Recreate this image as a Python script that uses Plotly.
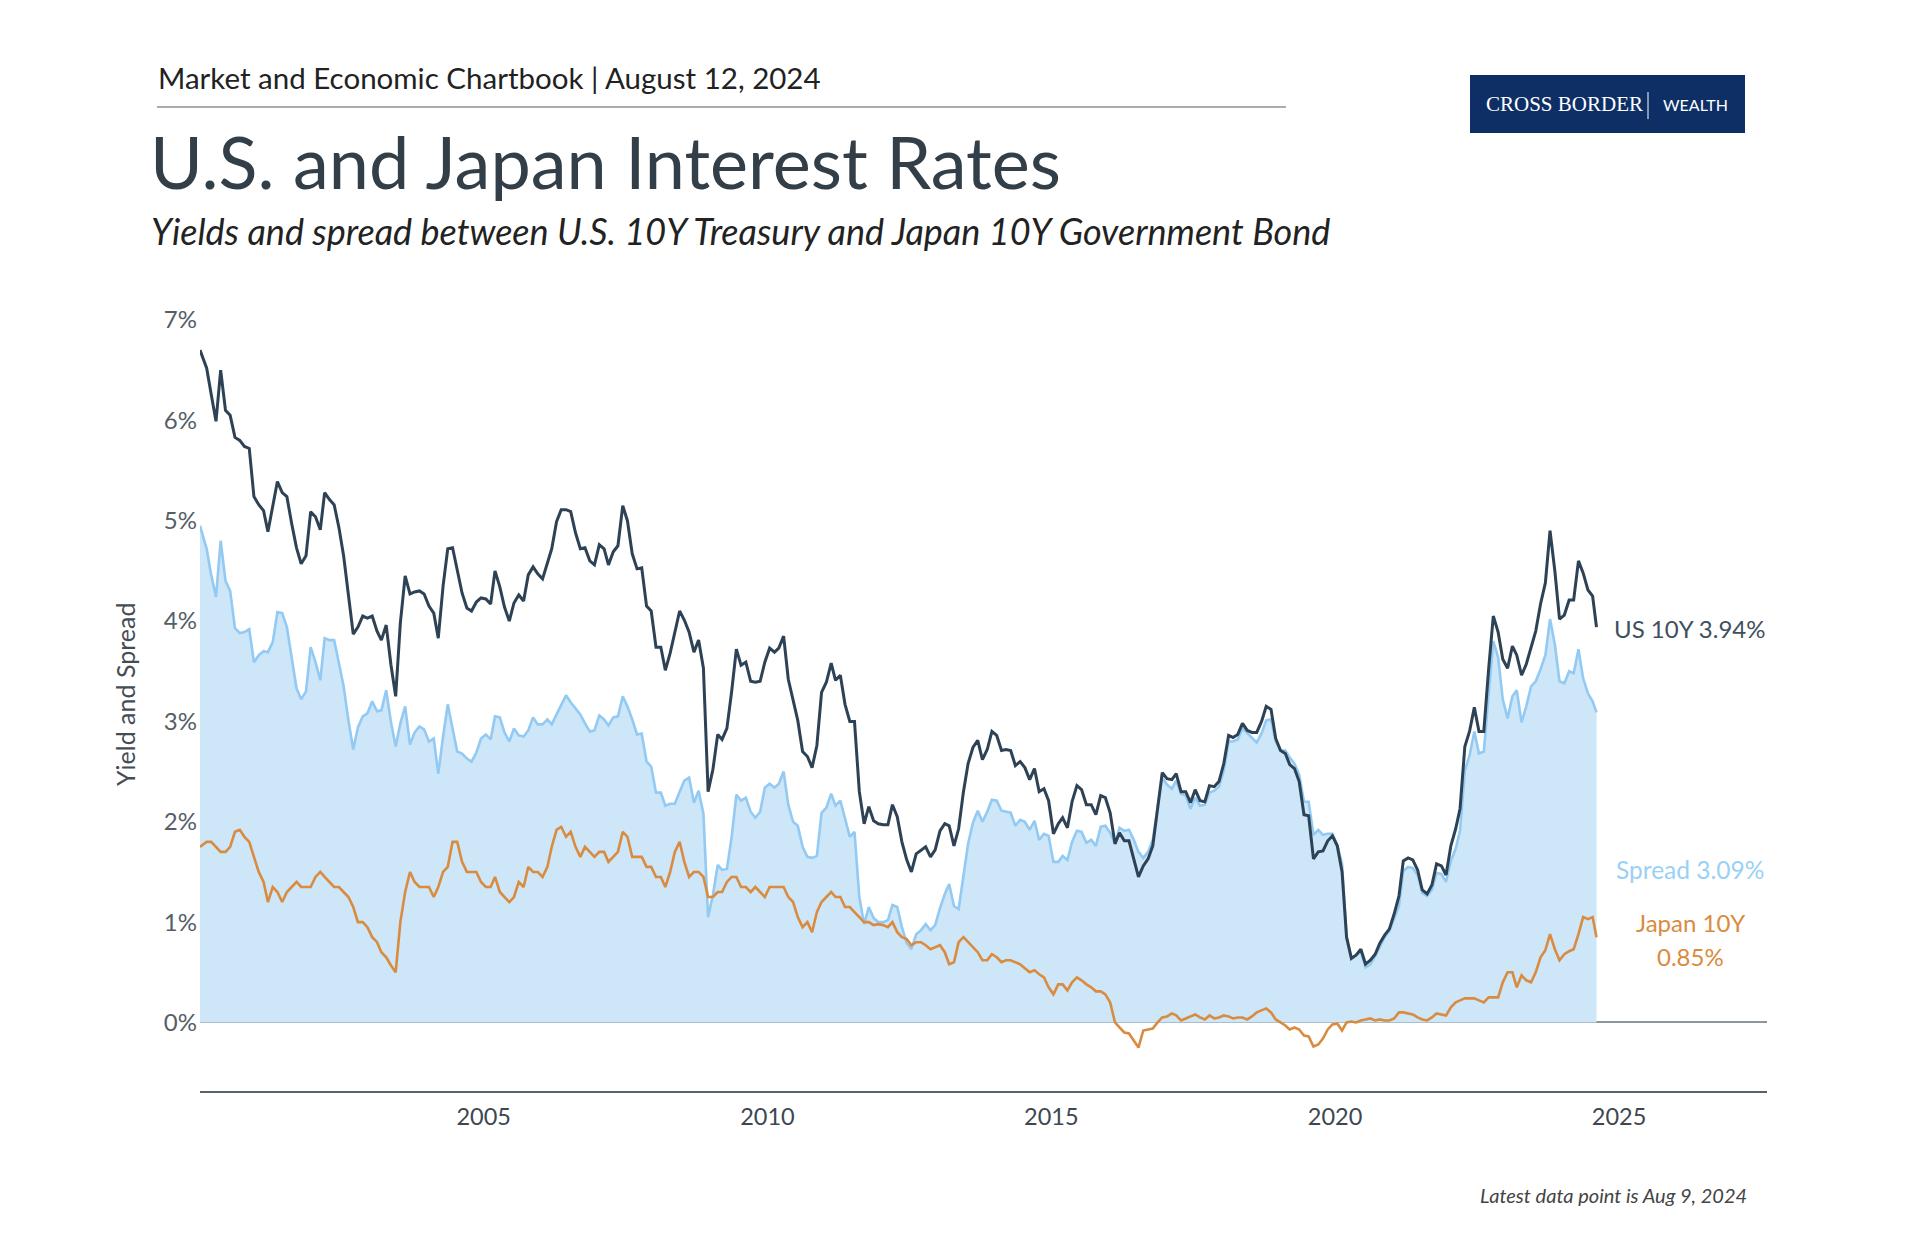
import pandas as pd
import plotly.graph_objects as go

# Monthly readings, Jan 2000 .. Aug 2024 (percent)
us_10y = [
    6.70, 6.52, 6.26, 5.99, 6.50, 6.10, 6.05, 5.83, 5.80, 5.74, 5.72, 5.24,
    5.16, 5.10, 4.89, 5.14, 5.39, 5.28, 5.24, 4.97, 4.73, 4.57, 4.65, 5.09,
    5.04, 4.91, 5.28, 5.21, 5.16, 4.93, 4.65, 4.26, 3.87, 3.94, 4.05, 4.03,
    4.05, 3.90, 3.81, 3.96, 3.57, 3.25, 3.98, 4.45, 4.27, 4.29, 4.30, 4.27,
    4.15, 4.08, 3.83, 4.35, 4.72, 4.73, 4.50, 4.28, 4.13, 4.10, 4.19, 4.23,
    4.22, 4.17, 4.50, 4.34, 4.14, 4.00, 4.18, 4.26, 4.20, 4.46, 4.54, 4.47,
    4.42, 4.57, 4.72, 4.99, 5.11, 5.11, 5.09, 4.88, 4.72, 4.73, 4.60, 4.56,
    4.76, 4.72, 4.56, 4.69, 4.75, 5.15, 5.00, 4.67, 4.52, 4.53, 4.15, 4.10,
    3.74, 3.74, 3.51, 3.68, 3.88, 4.10, 4.01, 3.89, 3.69, 3.81, 3.53, 2.30,
    2.52, 2.87, 2.82, 2.93, 3.29, 3.72, 3.56, 3.59, 3.40, 3.39, 3.40, 3.59,
    3.73, 3.69, 3.73, 3.85, 3.42, 3.20, 3.01, 2.70, 2.65, 2.54, 2.76, 3.29,
    3.39, 3.58, 3.41, 3.46, 3.17, 3.00, 3.00, 2.30, 1.98, 2.15, 2.01, 1.98,
    1.97, 1.97, 2.17, 2.05, 1.80, 1.62, 1.50, 1.68, 1.72, 1.75, 1.65, 1.72,
    1.91, 1.98, 1.96, 1.76, 1.93, 2.30, 2.58, 2.74, 2.81, 2.62, 2.72, 2.90,
    2.86, 2.71, 2.72, 2.71, 2.56, 2.60, 2.54, 2.42, 2.53, 2.30, 2.33, 2.21,
    1.88, 1.98, 2.04, 1.94, 2.20, 2.36, 2.32, 2.17, 2.17, 2.07, 2.26, 2.24,
    2.09, 1.78, 1.89, 1.81, 1.81, 1.64, 1.45, 1.56, 1.63, 1.76, 2.14, 2.49,
    2.43, 2.42, 2.48, 2.30, 2.30, 2.19, 2.32, 2.21, 2.20, 2.36, 2.35, 2.40,
    2.58, 2.86, 2.84, 2.87, 2.98, 2.91, 2.89, 2.89, 3.00, 3.15, 3.12, 2.83,
    2.71, 2.68, 2.57, 2.53, 2.40, 2.07, 2.06, 1.63, 1.70, 1.71, 1.81, 1.86,
    1.76, 1.50, 0.85, 0.64, 0.67, 0.73, 0.58, 0.62, 0.68, 0.79, 0.87, 0.93,
    1.08, 1.26, 1.61, 1.64, 1.62, 1.52, 1.32, 1.28, 1.37, 1.58, 1.56, 1.47,
    1.76, 1.93, 2.13, 2.75, 2.90, 3.14, 2.90, 2.90, 3.52, 4.05, 3.89, 3.62,
    3.53, 3.75, 3.66, 3.46, 3.57, 3.75, 3.90, 4.17, 4.38, 4.90, 4.50, 4.02,
    4.06, 4.21, 4.21, 4.60, 4.48, 4.31, 4.25, 3.94,
]

japan_10y = [
    1.75, 1.80, 1.80, 1.75, 1.70, 1.70, 1.75, 1.90, 1.92, 1.85, 1.80, 1.65,
    1.50, 1.40, 1.20, 1.35, 1.30, 1.20, 1.30, 1.35, 1.40, 1.35, 1.35, 1.35,
    1.45, 1.50, 1.45, 1.40, 1.35, 1.35, 1.30, 1.25, 1.15, 1.00, 1.00, 0.95,
    0.85, 0.80, 0.70, 0.65, 0.57, 0.50, 1.00, 1.30, 1.50, 1.40, 1.35, 1.35,
    1.35, 1.25, 1.35, 1.50, 1.55, 1.80, 1.80, 1.60, 1.50, 1.50, 1.50, 1.40,
    1.35, 1.35, 1.45, 1.30, 1.25, 1.20, 1.25, 1.40, 1.35, 1.55, 1.50, 1.50,
    1.45, 1.55, 1.75, 1.92, 1.95, 1.85, 1.90, 1.75, 1.65, 1.75, 1.70, 1.65,
    1.70, 1.70, 1.60, 1.65, 1.70, 1.90, 1.85, 1.65, 1.65, 1.65, 1.55, 1.55,
    1.45, 1.45, 1.35, 1.50, 1.70, 1.80, 1.60, 1.45, 1.50, 1.50, 1.45, 1.25,
    1.25, 1.30, 1.30, 1.40, 1.45, 1.45, 1.35, 1.35, 1.30, 1.35, 1.30, 1.25,
    1.35, 1.35, 1.35, 1.35, 1.25, 1.20, 1.05, 0.95, 1.00, 0.90, 1.10, 1.20,
    1.25, 1.30, 1.25, 1.25, 1.15, 1.15, 1.10, 1.05, 1.00, 1.00, 0.97, 0.98,
    0.97, 0.95, 1.00, 0.90, 0.85, 0.83, 0.77, 0.80, 0.80, 0.77, 0.73, 0.75,
    0.77, 0.70, 0.58, 0.60, 0.80, 0.85, 0.80, 0.75, 0.70, 0.62, 0.62, 0.68,
    0.65, 0.60, 0.62, 0.62, 0.60, 0.58, 0.54, 0.50, 0.52, 0.48, 0.45, 0.35,
    0.28, 0.38, 0.38, 0.32, 0.40, 0.45, 0.42, 0.38, 0.35, 0.31, 0.31, 0.28,
    0.20, 0.00, -0.05, -0.10, -0.11, -0.18, -0.25, -0.08, -0.07, -0.06, 0.00, 0.05,
    0.06, 0.09, 0.07, 0.02, 0.04, 0.06, 0.08, 0.05, 0.03, 0.07, 0.04, 0.05,
    0.07, 0.06, 0.04, 0.05, 0.05, 0.03, 0.06, 0.10, 0.12, 0.14, 0.10, 0.03,
    0.00, -0.03, -0.07, -0.05, -0.07, -0.13, -0.14, -0.24, -0.22, -0.16, -0.07, -0.02,
    -0.01, -0.08, 0.00, 0.01, 0.00, 0.02, 0.03, 0.04, 0.02, 0.03, 0.02, 0.02,
    0.04, 0.10, 0.10, 0.09, 0.08, 0.05, 0.03, 0.02, 0.05, 0.09, 0.08, 0.07,
    0.15, 0.20, 0.22, 0.24, 0.24, 0.24, 0.22, 0.20, 0.25, 0.25, 0.25, 0.40,
    0.50, 0.50, 0.35, 0.47, 0.42, 0.40, 0.50, 0.65, 0.72, 0.88, 0.73, 0.62,
    0.68, 0.71, 0.73, 0.88, 1.05, 1.03, 1.05, 0.85,
]

first_date = "2000-01-03"
last_date = "2024-08-09"
x_ticks = ["2005-01-01", "2010-01-01", "2015-01-01", "2020-01-01", "2025-01-01"]
x_tick_labels = ["2005", "2010", "2015", "2020", "2025"]
y_ticks = [0, 1, 2, 3, 4, 5, 6, 7]
y_tick_labels = ["0%", "1%", "2%", "3%", "4%", "5%", "6%", "7%"]

n = len(us_10y)
dates = list(pd.date_range("2000-01-01", periods=n, freq="MS") + pd.Timedelta(days=14))
dates[0] = pd.Timestamp(first_date)
dates[-1] = pd.Timestamp(last_date)
spread = [round(u - j, 2) for u, j in zip(us_10y, japan_10y)]

FONT = "Lato"
US_C = "#2e4256"
JP_C = "#d98b40"
SP_C = "#93caf3"
FILL_C = "#cde6f8"

fig = go.Figure()
fig.add_trace(go.Scatter(x=dates, y=spread, mode="lines", name="Spread",
                         line=dict(color=SP_C, width=2.6), fill="tozeroy",
                         fillcolor=FILL_C, hoverinfo="skip"))
fig.add_trace(go.Scatter(x=dates, y=japan_10y, mode="lines", name="Japan 10Y",
                         line=dict(color=JP_C, width=2.6)))
fig.add_trace(go.Scatter(x=dates, y=us_10y, mode="lines", name="US 10Y",
                         line=dict(color=US_C, width=3)))

# page body has an 8px margin: screen = figure + 8
OFF = 8
W, H = 1920, 1240
L, T = 192, 312
R, B = 1920 - 1759, 1240 - 1083
pw, ph = W - L - R, H - T - B


def px(xs):
    return (xs - OFF - L) / pw


def py(ys):
    return (H - B - (ys - OFF)) / ph


annotations = [
    dict(text="Market and Economic Chartbook | August 12, 2024", x=px(156), y=py(77.5),
         xanchor="left", yanchor="middle", font=dict(family=FONT, size=29.5, color="#222222")),
    dict(text="U.S. and Japan Interest Rates", x=px(148), y=py(161),
         xanchor="left", yanchor="middle", font=dict(family=FONT, size=72, color="#333f48")),
    dict(text="<i>Yields and spread between U.S. 10Y Treasury and Japan 10Y Government Bond</i>",
         x=px(149), y=py(231), xanchor="left", yanchor="middle",
         font=dict(family=FONT, size=36, color="#222222")),
    dict(text="Yield and Spread", x=px(125), y=py(695), textangle=-90,
         xanchor="center", yanchor="middle", font=dict(family=FONT, size=25, color="#444c54")),
    dict(text="US 10Y 3.94%", x=px(1690), y=py(628), xanchor="center", yanchor="middle",
         font=dict(family=FONT, size=24, color="#3f4f5e")),
    dict(text="Spread 3.09%", x=px(1690), y=py(869), xanchor="center", yanchor="middle",
         font=dict(family=FONT, size=24.5, color="#9bd0f6")),
    dict(text="Japan 10Y", x=px(1690), y=py(922), xanchor="center", yanchor="middle",
         font=dict(family=FONT, size=24, color=JP_C)),
    dict(text="0.85%", x=px(1690), y=py(956), xanchor="center", yanchor="middle",
         font=dict(family=FONT, size=24, color=JP_C)),
    dict(text="<i>Latest data point is Aug 9, 2024</i>", x=px(1749), y=py(1195),
         xanchor="right", yanchor="middle", font=dict(family=FONT, size=20, color="#444444")),
    dict(text="CROSS BORDER", x=px(1484), y=py(104), xanchor="left", yanchor="middle",
         font=dict(family="Liberation Serif", size=21, color="#ffffff")),
    dict(text="WEALTH", x=px(1695), y=py(104), xanchor="center", yanchor="middle",
         font=dict(family="Lato", size=16, color="#ffffff")),
]
for a in annotations:
    a.update(xref="paper", yref="paper", showarrow=False)

shapes = [
    dict(type="line", xref="paper", yref="paper", x0=px(157), x1=px(1286),
         y0=py(107), y1=py(107), line=dict(color="#555d64", width=1.2)),
    dict(type="rect", xref="paper", yref="paper", x0=px(1470), x1=px(1745),
         y0=py(133), y1=py(75), fillcolor="#0d2f66", line=dict(width=0)),
    dict(type="line", xref="paper", yref="paper", x0=px(1648), x1=px(1648),
         y0=py(92), y1=py(119), line=dict(color="#ffffff", width=1)),
]

fig.update_layout(
    width=W, height=H,
    margin=dict(l=L, r=R, t=T, b=B),
    paper_bgcolor="white", plot_bgcolor="white",
    showlegend=False,
    annotations=annotations,
    shapes=shapes,
    font=dict(family=FONT),
    xaxis=dict(type="date", range=["2000-01-03", "2027-08-11"], tickvals=x_ticks,
               ticktext=x_tick_labels, showgrid=False, zeroline=False, showline=True,
               linecolor="#5a636b", linewidth=1.5, ticks="", ticklabelstandoff=4,
               tickfont=dict(family=FONT, size=23.5, color="#3d4750")),
    yaxis=dict(range=[-0.683, 7.0], tickvals=y_ticks, ticktext=y_tick_labels,
               showgrid=False, zeroline=True, zerolinecolor="#8b969f", zerolinewidth=2,
               showline=False, ticks="", ticklabelstandoff=2,
               tickfont=dict(family=FONT, size=24, color="#555e66")),
)

fig.write_html("out.html")
